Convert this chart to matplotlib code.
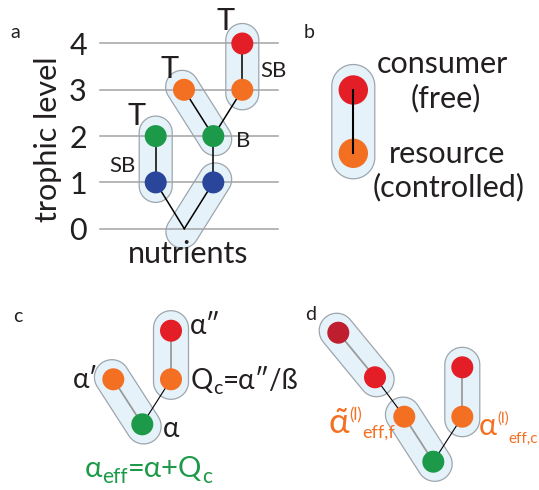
import numpy as np
import matplotlib.pyplot as plt
from matplotlib.patches import Circle, Polygon

plt.rcParams['font.family'] = ['Lato', 'DejaVu Sans']

# colours of the species
RED = '#e31e26'
DARKRED = '#be1e2d'
ORANGE = '#f37022'
GREEN = '#1d9a49'
BLUE = '#2a469a'
INK = '#231f20'
PILL_FILL = '#e6f2fa'
PILL_EDGE = '#9ea6ad'
GRID = '#a3a3a3'
GRAYLINK = '#9a9a9a'

# panel a: trophic levels and the food web
levels = [0, 1, 2, 3, 4]
level_y0, level_step = 228.7, 46.3       # pixel row of level 0, pixels per level
grid_x = (100, 278)

a_names = ['b1', 'g1', 'b2', 'g2', 'o1', 'o2', 'r1', 'nut']
a_x = [155.7, 155.7, 213.3, 213.3, 184.0, 242.3, 242.3, 184.3]
a_level = [1, 2, 1, 2, 3, 3, 4, 0]
a_color = [BLUE, GREEN, BLUE, GREEN, ORANGE, ORANGE, RED, None]
a_links = [('b1', 'g1'), ('b1', 'nut'), ('b2', 'nut'), ('b2', 'g2'),
           ('g2', 'o1'), ('g2', 'o2'), ('o2', 'r1')]
a_pills = [('b1', 'g1'), ('nut', 'b2'), ('o1', 'g2'), ('o2', 'r1')]

# panel b: consumer / resource
b_nodes = {'c': (353.3, 90.0), 'r': (353.3, 153.3)}

# panel c
c_nodes = {'r': (171.0, 330.7), 'oR': (171.0, 379.3),
           'oL': (113.3, 379.3), 'g': (142.3, 424.3)}
c_color = {'r': RED, 'oR': ORANGE, 'oL': ORANGE, 'g': GREEN}
c_pills = [('r', 'oR'), ('oL', 'g')]
c_links = [('r', 'oR', 'gray'), ('oL', 'g', 'gray'), ('oR', 'g', 'black')]

# panel d
d_nodes = {'dr': (338.3, 332.7), 'r': (375.0, 377.3), 'oL': (404.3, 416.7),
           'g': (433.3, 461.7), 'rR': (462.3, 367.3), 'oR': (462.3, 416.7)}
d_color = {'dr': DARKRED, 'r': RED, 'oL': ORANGE, 'g': GREEN,
           'rR': RED, 'oR': ORANGE}
d_pills = [('dr', 'r'), ('oL', 'g'), ('rR', 'oR')]
d_links = [('dr', 'r', 'gray'), ('r', 'oL', 'black'), ('oL', 'g', 'gray'),
           ('oR', 'g', 'black'), ('rR', 'oR', 'gray')]


def ypix(level):
    return level_y0 - level_step * level


def pill(ax, p0, p1, r, ext=3.0):
    # rounded capsule around the segment p0-p1
    p0 = np.asarray(p0, float)
    p1 = np.asarray(p1, float)
    d = p1 - p0
    d /= np.hypot(*d)
    p0 = p0 - d * ext
    p1 = p1 + d * ext
    ang = np.arctan2(d[1], d[0])
    t1 = np.linspace(ang - np.pi / 2, ang + np.pi / 2, 40)
    t0 = np.linspace(ang + np.pi / 2, ang + 3 * np.pi / 2, 40)
    pts = np.vstack([p1 + r * np.c_[np.cos(t1), np.sin(t1)],
                     p0 + r * np.c_[np.cos(t0), np.sin(t0)]])
    ax.add_patch(Polygon(pts, closed=True, fc=PILL_FILL, ec=PILL_EDGE,
                         lw=0.9, zorder=1))


def node(ax, p, color, r=11.0):
    ax.add_patch(Circle(p, r, fc=color, ec='none', zorder=4))


def link(ax, p0, p1, kind='black'):
    if kind == 'gray':
        ax.plot([p0[0], p1[0]], [p0[1], p1[1]], color=GRAYLINK, lw=1.3, zorder=3)
    else:
        ax.plot([p0[0], p1[0]], [p0[1], p1[1]], color='black', lw=0.8, zorder=3)


def chain(ax, x, y, pieces, color):
    # writes pieces side by side: (text, size, baseline shift in px)
    prev = None
    out = []
    for s, size, dy in pieces:
        if prev is None:
            prev = ax.text(x, y + dy, s, fontsize=size, color=color,
                           ha='left', va='baseline')
        else:
            prev = ax.annotate(s, xy=(1, y + dy), xycoords=(prev, 'data'),
                               fontsize=size, color=color,
                               ha='left', va='baseline')
        out.append(prev)
    return out


fig = plt.figure(figsize=(5.39, 4.9), dpi=100)
ax = fig.add_axes([0, 0, 1, 1])
ax.set_xlim(0, 539)
ax.set_ylim(490, 0)
ax.axis('off')

# ---- a ----
ax.text(10, 38, 'a', fontsize=14, color=INK)
for L in levels:
    ax.plot(grid_x, [ypix(L)] * 2, color=GRID, lw=1.1, zorder=2)
    ax.text(78, ypix(L), str(L), fontsize=22, color=INK,
            ha='center', va='center_baseline')
ax.text(48, 139, 'trophic level', fontsize=22, color=INK, rotation=90,
        ha='center', va='center')
ax.text(188, 263, 'nutrients', fontsize=22, color=INK,
        ha='center', va='baseline')

pos = {n: (x, ypix(L)) for n, x, L in zip(a_names, a_x, a_level)}
for p, q in a_pills:
    pill(ax, pos[p], pos[q], 16.5, ext=3.5)
for p, q in a_links:
    ax.plot([pos[p][0], pos[q][0]], [pos[p][1], pos[q][1]],
            color='black', lw=1.1, zorder=3)
for n, c in zip(a_names, a_color):
    if c is not None:
        node(ax, pos[n], c, 11.0)

for tx, ty, s, fs in [(137, 125, 'T', 22), (170, 78, 'T', 22), (226, 30, 'T', 22),
                      (273, 77, 'SB', 16), (122, 172, 'SB', 16), (243, 147, 'B', 16)]:
    ax.text(tx, ty, s, fontsize=fs, color=INK, ha='center', va='baseline')

# ---- b ----
ax.text(304, 38, 'b', fontsize=14, color=INK)
pill(ax, b_nodes['c'], b_nodes['r'], 21.5, ext=4)
node(ax, b_nodes['c'], RED, 14.7)
node(ax, b_nodes['r'], ORANGE, 14.7)
ax.plot([b_nodes['c'][0]] * 2, [b_nodes['c'][1], b_nodes['r'][1]],
        color='black', lw=1.5, zorder=5)
for tx, ty, s in [(442, 73, 'consumer'), (446, 107, '(free)'),
                  (447, 163, 'resource'), (449, 196, '(controlled)')]:
    ax.text(tx, ty, s, fontsize=22, color=INK, ha='center', va='baseline')

# ---- c ----
ax.text(13, 322, 'c', fontsize=14, color=INK)
for p, q in c_pills:
    pill(ax, c_nodes[p], c_nodes[q], 17.5, ext=2.5)
for p, q, k in c_links:
    link(ax, c_nodes[p], c_nodes[q], k)
for n, p in c_nodes.items():
    node(ax, p, c_color[n])
ax.text(190, 334, 'α″', fontsize=20, color=INK)
ax.text(98, 388, 'α′', fontsize=20, color=INK, ha='right')
ax.text(163, 437, 'α', fontsize=20, color=INK)
chain(ax, 191, 389, [('Q', 20, 0), ('c', 14, 5), ('=α″/ß', 20, 0)], INK)
chain(ax, 85, 477, [('α', 21, 0), ('eff', 15, 6), ('=α+Q', 21, 0), ('c', 15, 6)], GREEN)

# ---- d ----
ax.text(305, 320, 'd', fontsize=14, color=INK)
for p, q in d_pills:
    pill(ax, d_nodes[p], d_nodes[q], 17.5, ext=2.5)
for p, q, k in d_links:
    link(ax, d_nodes[p], d_nodes[q], k)
for n, p in d_nodes.items():
    node(ax, p, d_color[n])
chain(ax, 329, 433, [('α\u0303', 25, 0), ('(l)', 12, -13), ('eff,f', 13, 5)], ORANGE)
chain(ax, 479, 435, [('α', 22, 0), ('(l)', 11, -12), ('eff,c', 11, 8)], ORANGE)

fig.savefig('out.png', dpi=100)
